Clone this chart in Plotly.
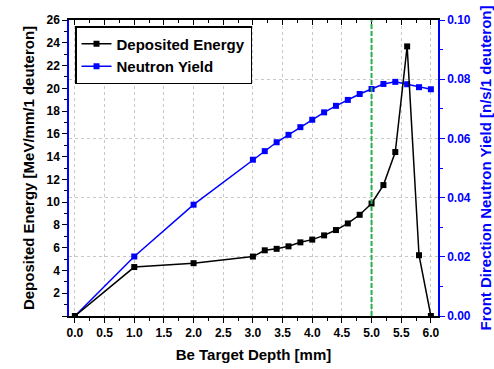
import plotly.graph_objects as go

depth = [0.0, 1.0, 2.0, 3.0, 3.2, 3.4, 3.6, 3.8, 4.0, 4.2, 4.4, 4.6, 4.8, 5.0, 5.2, 5.4, 5.6, 5.8, 6.0]
energy = [0.0, 4.3, 4.64, 5.22, 5.77, 5.9, 6.12, 6.47, 6.71, 7.08, 7.55, 8.13, 8.89, 9.88, 11.5, 14.4, 23.68, 5.34, 0.0]
neutron_yield = [0.0, 0.0201, 0.0376, 0.0528, 0.0557, 0.0587, 0.0612, 0.0638, 0.0663, 0.0688, 0.0710,
                 0.0730, 0.0750, 0.0767, 0.0784, 0.0791, 0.0783, 0.0773, 0.0766]

left_ticks = [0, 2, 4, 6, 8, 10, 12, 14, 16, 18, 20, 22, 24, 26]
left_labels = [""] + [str(v) for v in left_ticks[1:]]
right_ticks = [0.0, 0.02, 0.04, 0.06, 0.08, 0.10]
marker_x = 5.0

FONT = "Liberation Sans, Arial, sans-serif"
BLUE = "#0000ff"

fig = go.Figure()
fig.add_trace(go.Scatter(
    x=depth, y=energy, name="Deposited Energy", mode="lines+markers",
    line=dict(color="black", width=1.5), marker=dict(symbol="square", size=6, color="black"),
    yaxis="y2"))
fig.add_trace(go.Scatter(
    x=depth, y=neutron_yield, name="Neutron Yield", mode="lines+markers",
    line=dict(color=BLUE, width=1.5), marker=dict(symbol="square", size=6, color=BLUE),
    yaxis="y"))
# dummy trace to realise the top axis
fig.add_trace(go.Scatter(x=[None], y=[None], xaxis="x2", yaxis="y", showlegend=False, hoverinfo="skip"))

fig.add_shape(type="line", x0=marker_x, x1=marker_x, y0=0, y1=1, xref="x", yref="paper",
              line=dict(color="#22b14c", width=2, dash="5px,2px"))

# legend shadow
px_w, px_h = 369, 296
def px2x(p):
    return (p - 69) / px_w
def py2y(p):
    return (316 - p) / px_h

LEG_L, LEG_T = 75, 26
fig.add_shape(type="rect", xref="paper", yref="paper", layer="above",
              x0=px2x(LEG_L + 5), x1=px2x(LEG_L + 169), y0=py2y(LEG_T + 55), y1=py2y(LEG_T + 5),
              fillcolor="black", line=dict(width=0))

tick_font = dict(family=FONT, size=12, color="black", weight="bold")
title_font = dict(family=FONT, size=15, color="black", weight="bold")

fig.update_layout(
    width=494, height=369,
    margin=dict(l=69, r=56, t=20, b=53, autoexpand=False),
    paper_bgcolor="white", plot_bgcolor="white",
    showlegend=True,
    legend=dict(x=px2x(LEG_L), y=py2y(LEG_T), xanchor="left", yanchor="top",
                bgcolor="white", bordercolor="black", borderwidth=1.5,
                font=dict(family=FONT, size=15, color="black", weight="bold"),
                tracegroupgap=0, itemwidth=30),
    xaxis=dict(range=[-0.1, 6.12], tickmode="linear", tick0=0, dtick=0.5, tickformat=".1f",
               automargin=False,
               showline=True, linecolor="black", linewidth=1.5,
               ticks="outside", ticklen=5, tickwidth=1.2, tickcolor="black",
               minor=dict(ticks="outside", ticklen=3, dtick=0.25, tick0=0, tickcolor="black", showgrid=False),
               showgrid=True, gridcolor="#c8c8c8", griddash="dot", gridwidth=1,
               zeroline=False, tickfont=tick_font,
               title=dict(text="Be Target Depth [mm]", font=title_font, standoff=10)),
    xaxis2=dict(range=[-0.1, 6.12], overlaying="x", side="top", anchor="y",
                automargin=False,
                tickmode="linear", tick0=0, dtick=0.5, showticklabels=False,
                showline=True, linecolor="black", linewidth=1.5,
                ticks="inside", ticklen=5, tickwidth=1.2, tickcolor="black",
                minor=dict(ticks="inside", ticklen=3, dtick=0.25, tick0=0, tickcolor="black"),
                showgrid=False, zeroline=False),
    yaxis=dict(range=[0, 0.1], side="right", tickvals=right_ticks, tickformat=".2f",
               automargin=False,
               showline=True, linecolor=BLUE, linewidth=1.5,
               ticks="outside", ticklen=5, tickwidth=1.2, tickcolor=BLUE,
               minor=dict(ticks="outside", ticklen=3, dtick=0.01, tick0=0, tickcolor=BLUE, showgrid=False),
               showgrid=True, gridcolor="#c8c8c8", griddash="dot", gridwidth=1,
               zeroline=False, tickfont=dict(family=FONT, size=12, color=BLUE, weight="bold"),
               title=dict(text="Front Direction Neutron Yield [n/s/1 deuteron]",
                          font=dict(family=FONT, size=15, color=BLUE, weight="bold"), standoff=12)),
    yaxis2=dict(range=[0, 26], overlaying="y", side="left", anchor="x",
                automargin=False,
                tickvals=left_ticks, ticktext=left_labels,
                showline=True, linecolor=BLUE, linewidth=1.5,
                ticks="outside", ticklen=5, tickwidth=1.2, tickcolor="black",
                minor=dict(ticks="outside", ticklen=3, dtick=1, tick0=0, tickcolor="black"),
                showgrid=False, zeroline=False, tickfont=tick_font,
                title=dict(text="Deposited Energy [MeV/mm/1 deuteron]", font=title_font, standoff=8)),
)

fig.write_html("out.html", config={"displayModeBar": False},
               post_script="document.body.style.margin='0';")
